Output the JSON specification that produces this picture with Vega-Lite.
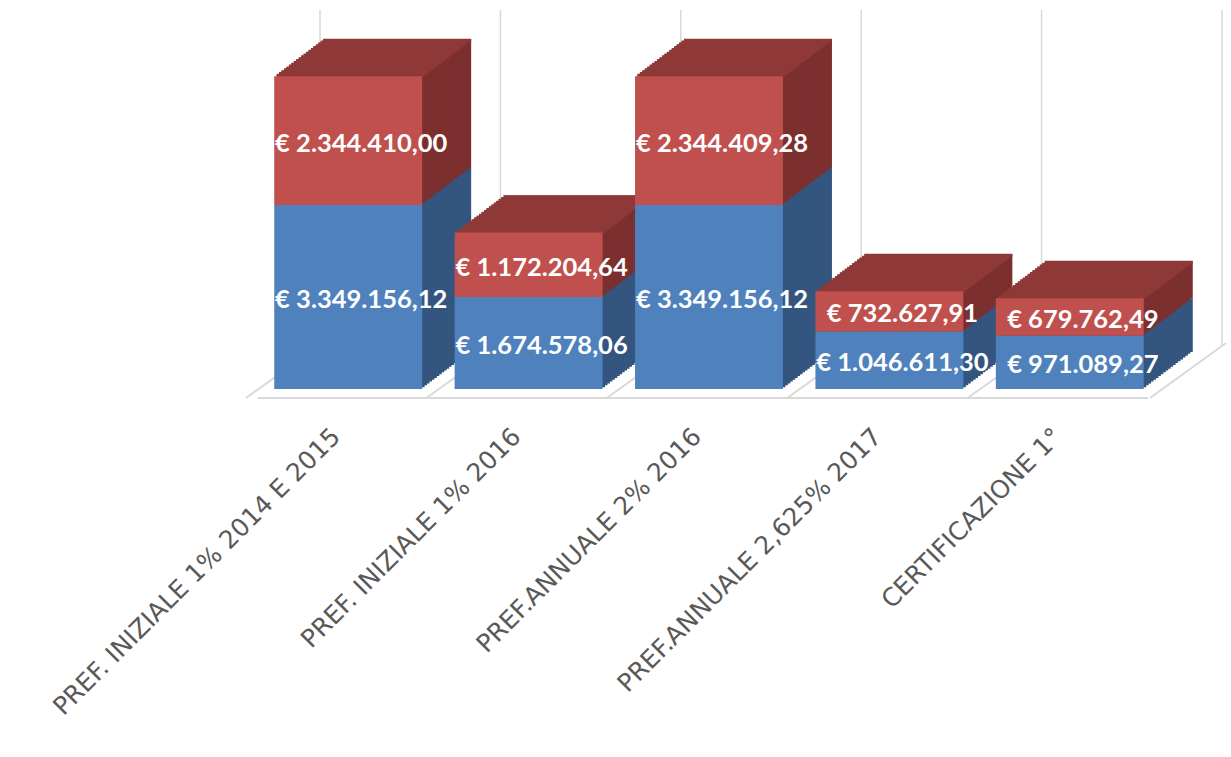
{
  "$schema": "https://vega.github.io/schema/vega-lite/v6.json",
  "width": 902,
  "height": 389,
  "autosize": "none",
  "padding": {"left": 258, "top": 0, "right": 71, "bottom": 368},
  "background": "white",
  "data": {"values": [
    {"cat": "PREF. INIZIALE 1% 2014 E 2015", "serie": "Serie1", "value": 3349156.12},
    {"cat": "PREF. INIZIALE 1% 2014 E 2015", "serie": "Serie2", "value": 2344410.00},
    {"cat": "PREF. INIZIALE 1% 2016", "serie": "Serie1", "value": 1674578.06},
    {"cat": "PREF. INIZIALE 1% 2016", "serie": "Serie2", "value": 1172204.64},
    {"cat": "PREF.ANNUALE 2% 2016", "serie": "Serie1", "value": 3349156.12},
    {"cat": "PREF.ANNUALE 2% 2016", "serie": "Serie2", "value": 2344409.28},
    {"cat": "PREF.ANNUALE 2,625% 2017", "serie": "Serie1", "value": 1046611.30},
    {"cat": "PREF.ANNUALE 2,625% 2017", "serie": "Serie2", "value": 732627.91},
    {"cat": "CERTIFICAZIONE 1°", "serie": "Serie1", "value": 971089.27},
    {"cat": "CERTIFICAZIONE 1°", "serie": "Serie2", "value": 679762.49}
  ]},
  "layer": [
    {"transform": [{"filter": "datum.serie == 'Serie1'"}],
     "mark": {"type": "rule", "color": "#D9D9D9", "strokeWidth": 1.5, "xOffset": 62, "yOffset": 0, "y2Offset": -44},
     "encoding": {
       "x": {"field": "cat", "type": "nominal", "sort": null, "bandPosition": 0},
       "y": {"datum": 6897000, "type": "quantitative", "axis": null, "scale": {"domain": [0, 7079000], "nice": false}},
       "y2": {"datum": 0}}},
    {"transform": [{"filter": "datum.serie == 'Serie1' && datum.cat == 'CERTIFICAZIONE 1°'"}],
     "mark": {"type": "rule", "color": "#D9D9D9", "strokeWidth": 1.5, "xOffset": 62, "y2Offset": -44},
     "encoding": {
       "x": {"field": "cat", "type": "nominal", "sort": null, "bandPosition": 1},
       "y": {"datum": 6897000, "type": "quantitative", "axis": null},
       "y2": {"datum": 0}}},
    {"transform": [{"filter": "datum.serie == 'Serie1'"}],
     "mark": {"type": "rule", "color": "#D9D9D9", "strokeWidth": 2, "xOffset": -12, "x2Offset": 62, "yOffset": 9, "y2Offset": -44},
     "encoding": {
       "x": {"field": "cat", "type": "nominal", "sort": null, "bandPosition": 0},
       "x2": {"field": "cat", "bandPosition": 0},
       "y": {"datum": 0, "type": "quantitative", "axis": null},
       "y2": {"datum": 0}}},
    {"transform": [{"filter": "datum.serie == 'Serie1' && datum.cat == 'CERTIFICAZIONE 1°'"}],
     "mark": {"type": "rule", "color": "#D9D9D9", "strokeWidth": 2, "xOffset": -10, "x2Offset": 66, "yOffset": 9, "y2Offset": -46},
     "encoding": {
       "x": {"field": "cat", "type": "nominal", "sort": null, "bandPosition": 1},
       "x2": {"field": "cat", "bandPosition": 1},
       "y": {"datum": 0, "type": "quantitative", "axis": null},
       "y2": {"datum": 0}}},
    {"mark": {"type": "rule", "color": "#D9D9D9", "strokeWidth": 2, "yOffset": 9, "xOffset": -12, "x2Offset": -10},
     "encoding": {"y": {"datum": 0, "type": "quantitative", "axis": null}}},

    {"mark": {"type": "bar", "width": {"band": 0.82}, "xOffset": 49, "yOffset": -37, "y2Offset": -37}, "encoding": {"x": {"field": "cat", "type": "nominal", "sort": null}, "y": {"field": "value", "type": "quantitative", "stack": "zero", "axis": null}, "detail": {"field": "serie"}, "order": {"field": "serie"}, "color": {"condition": {"test": "datum.serie == 'Serie1'", "value": "#33557F"}, "value": "#7B2F2E"}}},
    {"mark": {"type": "bar", "width": {"band": 0.82}, "xOffset": 46.55, "yOffset": -35.15, "y2Offset": -35.15}, "encoding": {"x": {"field": "cat", "type": "nominal", "sort": null}, "y": {"field": "value", "type": "quantitative", "stack": "zero", "axis": null}, "detail": {"field": "serie"}, "order": {"field": "serie"}, "color": {"condition": {"test": "datum.serie == 'Serie1'", "value": "#33557F"}, "value": "#7B2F2E"}}},
    {"mark": {"type": "bar", "width": {"band": 0.82}, "xOffset": 44.1, "yOffset": -33.3, "y2Offset": -33.3}, "encoding": {"x": {"field": "cat", "type": "nominal", "sort": null}, "y": {"field": "value", "type": "quantitative", "stack": "zero", "axis": null}, "detail": {"field": "serie"}, "order": {"field": "serie"}, "color": {"condition": {"test": "datum.serie == 'Serie1'", "value": "#33557F"}, "value": "#7B2F2E"}}},
    {"mark": {"type": "bar", "width": {"band": 0.82}, "xOffset": 41.65, "yOffset": -31.45, "y2Offset": -31.45}, "encoding": {"x": {"field": "cat", "type": "nominal", "sort": null}, "y": {"field": "value", "type": "quantitative", "stack": "zero", "axis": null}, "detail": {"field": "serie"}, "order": {"field": "serie"}, "color": {"condition": {"test": "datum.serie == 'Serie1'", "value": "#33557F"}, "value": "#7B2F2E"}}},
    {"mark": {"type": "bar", "width": {"band": 0.82}, "xOffset": 39.2, "yOffset": -29.6, "y2Offset": -29.6}, "encoding": {"x": {"field": "cat", "type": "nominal", "sort": null}, "y": {"field": "value", "type": "quantitative", "stack": "zero", "axis": null}, "detail": {"field": "serie"}, "order": {"field": "serie"}, "color": {"condition": {"test": "datum.serie == 'Serie1'", "value": "#33557F"}, "value": "#7B2F2E"}}},
    {"mark": {"type": "bar", "width": {"band": 0.82}, "xOffset": 36.75, "yOffset": -27.75, "y2Offset": -27.75}, "encoding": {"x": {"field": "cat", "type": "nominal", "sort": null}, "y": {"field": "value", "type": "quantitative", "stack": "zero", "axis": null}, "detail": {"field": "serie"}, "order": {"field": "serie"}, "color": {"condition": {"test": "datum.serie == 'Serie1'", "value": "#33557F"}, "value": "#7B2F2E"}}},
    {"mark": {"type": "bar", "width": {"band": 0.82}, "xOffset": 34.3, "yOffset": -25.9, "y2Offset": -25.9}, "encoding": {"x": {"field": "cat", "type": "nominal", "sort": null}, "y": {"field": "value", "type": "quantitative", "stack": "zero", "axis": null}, "detail": {"field": "serie"}, "order": {"field": "serie"}, "color": {"condition": {"test": "datum.serie == 'Serie1'", "value": "#33557F"}, "value": "#7B2F2E"}}},
    {"mark": {"type": "bar", "width": {"band": 0.82}, "xOffset": 31.85, "yOffset": -24.05, "y2Offset": -24.05}, "encoding": {"x": {"field": "cat", "type": "nominal", "sort": null}, "y": {"field": "value", "type": "quantitative", "stack": "zero", "axis": null}, "detail": {"field": "serie"}, "order": {"field": "serie"}, "color": {"condition": {"test": "datum.serie == 'Serie1'", "value": "#33557F"}, "value": "#7B2F2E"}}},
    {"mark": {"type": "bar", "width": {"band": 0.82}, "xOffset": 29.4, "yOffset": -22.2, "y2Offset": -22.2}, "encoding": {"x": {"field": "cat", "type": "nominal", "sort": null}, "y": {"field": "value", "type": "quantitative", "stack": "zero", "axis": null}, "detail": {"field": "serie"}, "order": {"field": "serie"}, "color": {"condition": {"test": "datum.serie == 'Serie1'", "value": "#33557F"}, "value": "#7B2F2E"}}},
    {"mark": {"type": "bar", "width": {"band": 0.82}, "xOffset": 26.95, "yOffset": -20.35, "y2Offset": -20.35}, "encoding": {"x": {"field": "cat", "type": "nominal", "sort": null}, "y": {"field": "value", "type": "quantitative", "stack": "zero", "axis": null}, "detail": {"field": "serie"}, "order": {"field": "serie"}, "color": {"condition": {"test": "datum.serie == 'Serie1'", "value": "#33557F"}, "value": "#7B2F2E"}}},
    {"mark": {"type": "bar", "width": {"band": 0.82}, "xOffset": 24.5, "yOffset": -18.5, "y2Offset": -18.5}, "encoding": {"x": {"field": "cat", "type": "nominal", "sort": null}, "y": {"field": "value", "type": "quantitative", "stack": "zero", "axis": null}, "detail": {"field": "serie"}, "order": {"field": "serie"}, "color": {"condition": {"test": "datum.serie == 'Serie1'", "value": "#33557F"}, "value": "#7B2F2E"}}},
    {"mark": {"type": "bar", "width": {"band": 0.82}, "xOffset": 22.05, "yOffset": -16.65, "y2Offset": -16.65}, "encoding": {"x": {"field": "cat", "type": "nominal", "sort": null}, "y": {"field": "value", "type": "quantitative", "stack": "zero", "axis": null}, "detail": {"field": "serie"}, "order": {"field": "serie"}, "color": {"condition": {"test": "datum.serie == 'Serie1'", "value": "#33557F"}, "value": "#7B2F2E"}}},
    {"mark": {"type": "bar", "width": {"band": 0.82}, "xOffset": 19.6, "yOffset": -14.8, "y2Offset": -14.8}, "encoding": {"x": {"field": "cat", "type": "nominal", "sort": null}, "y": {"field": "value", "type": "quantitative", "stack": "zero", "axis": null}, "detail": {"field": "serie"}, "order": {"field": "serie"}, "color": {"condition": {"test": "datum.serie == 'Serie1'", "value": "#33557F"}, "value": "#7B2F2E"}}},
    {"mark": {"type": "bar", "width": {"band": 0.82}, "xOffset": 17.15, "yOffset": -12.95, "y2Offset": -12.95}, "encoding": {"x": {"field": "cat", "type": "nominal", "sort": null}, "y": {"field": "value", "type": "quantitative", "stack": "zero", "axis": null}, "detail": {"field": "serie"}, "order": {"field": "serie"}, "color": {"condition": {"test": "datum.serie == 'Serie1'", "value": "#33557F"}, "value": "#7B2F2E"}}},
    {"mark": {"type": "bar", "width": {"band": 0.82}, "xOffset": 14.7, "yOffset": -11.1, "y2Offset": -11.1}, "encoding": {"x": {"field": "cat", "type": "nominal", "sort": null}, "y": {"field": "value", "type": "quantitative", "stack": "zero", "axis": null}, "detail": {"field": "serie"}, "order": {"field": "serie"}, "color": {"condition": {"test": "datum.serie == 'Serie1'", "value": "#33557F"}, "value": "#7B2F2E"}}},
    {"mark": {"type": "bar", "width": {"band": 0.82}, "xOffset": 12.25, "yOffset": -9.25, "y2Offset": -9.25}, "encoding": {"x": {"field": "cat", "type": "nominal", "sort": null}, "y": {"field": "value", "type": "quantitative", "stack": "zero", "axis": null}, "detail": {"field": "serie"}, "order": {"field": "serie"}, "color": {"condition": {"test": "datum.serie == 'Serie1'", "value": "#33557F"}, "value": "#7B2F2E"}}},
    {"mark": {"type": "bar", "width": {"band": 0.82}, "xOffset": 9.8, "yOffset": -7.4, "y2Offset": -7.4}, "encoding": {"x": {"field": "cat", "type": "nominal", "sort": null}, "y": {"field": "value", "type": "quantitative", "stack": "zero", "axis": null}, "detail": {"field": "serie"}, "order": {"field": "serie"}, "color": {"condition": {"test": "datum.serie == 'Serie1'", "value": "#33557F"}, "value": "#7B2F2E"}}},
    {"mark": {"type": "bar", "width": {"band": 0.82}, "xOffset": 7.35, "yOffset": -5.55, "y2Offset": -5.55}, "encoding": {"x": {"field": "cat", "type": "nominal", "sort": null}, "y": {"field": "value", "type": "quantitative", "stack": "zero", "axis": null}, "detail": {"field": "serie"}, "order": {"field": "serie"}, "color": {"condition": {"test": "datum.serie == 'Serie1'", "value": "#33557F"}, "value": "#7B2F2E"}}},
    {"mark": {"type": "bar", "width": {"band": 0.82}, "xOffset": 4.9, "yOffset": -3.7, "y2Offset": -3.7}, "encoding": {"x": {"field": "cat", "type": "nominal", "sort": null}, "y": {"field": "value", "type": "quantitative", "stack": "zero", "axis": null}, "detail": {"field": "serie"}, "order": {"field": "serie"}, "color": {"condition": {"test": "datum.serie == 'Serie1'", "value": "#33557F"}, "value": "#7B2F2E"}}},
    {"mark": {"type": "bar", "width": {"band": 0.82}, "xOffset": 2.45, "yOffset": -1.85, "y2Offset": -1.85}, "encoding": {"x": {"field": "cat", "type": "nominal", "sort": null}, "y": {"field": "value", "type": "quantitative", "stack": "zero", "axis": null}, "detail": {"field": "serie"}, "order": {"field": "serie"}, "color": {"condition": {"test": "datum.serie == 'Serie1'", "value": "#33557F"}, "value": "#7B2F2E"}}},

    {"mark": {"type": "tick", "size": 148, "thickness": 2.7, "opacity": 1, "color": "#8E3938", "xOffset": 49, "yOffset": -36.075}, "encoding": {"x": {"field": "cat", "type": "nominal", "sort": null}, "y": {"aggregate": "sum", "field": "value", "type": "quantitative", "axis": null}}},
    {"mark": {"type": "tick", "size": 148, "thickness": 2.7, "opacity": 1, "color": "#8E3938", "xOffset": 46.55, "yOffset": -34.225}, "encoding": {"x": {"field": "cat", "type": "nominal", "sort": null}, "y": {"aggregate": "sum", "field": "value", "type": "quantitative", "axis": null}}},
    {"mark": {"type": "tick", "size": 148, "thickness": 2.7, "opacity": 1, "color": "#8E3938", "xOffset": 44.1, "yOffset": -32.375}, "encoding": {"x": {"field": "cat", "type": "nominal", "sort": null}, "y": {"aggregate": "sum", "field": "value", "type": "quantitative", "axis": null}}},
    {"mark": {"type": "tick", "size": 148, "thickness": 2.7, "opacity": 1, "color": "#8E3938", "xOffset": 41.65, "yOffset": -30.525}, "encoding": {"x": {"field": "cat", "type": "nominal", "sort": null}, "y": {"aggregate": "sum", "field": "value", "type": "quantitative", "axis": null}}},
    {"mark": {"type": "tick", "size": 148, "thickness": 2.7, "opacity": 1, "color": "#8E3938", "xOffset": 39.2, "yOffset": -28.675}, "encoding": {"x": {"field": "cat", "type": "nominal", "sort": null}, "y": {"aggregate": "sum", "field": "value", "type": "quantitative", "axis": null}}},
    {"mark": {"type": "tick", "size": 148, "thickness": 2.7, "opacity": 1, "color": "#8E3938", "xOffset": 36.75, "yOffset": -26.825}, "encoding": {"x": {"field": "cat", "type": "nominal", "sort": null}, "y": {"aggregate": "sum", "field": "value", "type": "quantitative", "axis": null}}},
    {"mark": {"type": "tick", "size": 148, "thickness": 2.7, "opacity": 1, "color": "#8E3938", "xOffset": 34.3, "yOffset": -24.975}, "encoding": {"x": {"field": "cat", "type": "nominal", "sort": null}, "y": {"aggregate": "sum", "field": "value", "type": "quantitative", "axis": null}}},
    {"mark": {"type": "tick", "size": 148, "thickness": 2.7, "opacity": 1, "color": "#8E3938", "xOffset": 31.85, "yOffset": -23.125}, "encoding": {"x": {"field": "cat", "type": "nominal", "sort": null}, "y": {"aggregate": "sum", "field": "value", "type": "quantitative", "axis": null}}},
    {"mark": {"type": "tick", "size": 148, "thickness": 2.7, "opacity": 1, "color": "#8E3938", "xOffset": 29.4, "yOffset": -21.275}, "encoding": {"x": {"field": "cat", "type": "nominal", "sort": null}, "y": {"aggregate": "sum", "field": "value", "type": "quantitative", "axis": null}}},
    {"mark": {"type": "tick", "size": 148, "thickness": 2.7, "opacity": 1, "color": "#8E3938", "xOffset": 26.95, "yOffset": -19.425}, "encoding": {"x": {"field": "cat", "type": "nominal", "sort": null}, "y": {"aggregate": "sum", "field": "value", "type": "quantitative", "axis": null}}},
    {"mark": {"type": "tick", "size": 148, "thickness": 2.7, "opacity": 1, "color": "#8E3938", "xOffset": 24.5, "yOffset": -17.575}, "encoding": {"x": {"field": "cat", "type": "nominal", "sort": null}, "y": {"aggregate": "sum", "field": "value", "type": "quantitative", "axis": null}}},
    {"mark": {"type": "tick", "size": 148, "thickness": 2.7, "opacity": 1, "color": "#8E3938", "xOffset": 22.05, "yOffset": -15.725}, "encoding": {"x": {"field": "cat", "type": "nominal", "sort": null}, "y": {"aggregate": "sum", "field": "value", "type": "quantitative", "axis": null}}},
    {"mark": {"type": "tick", "size": 148, "thickness": 2.7, "opacity": 1, "color": "#8E3938", "xOffset": 19.6, "yOffset": -13.875}, "encoding": {"x": {"field": "cat", "type": "nominal", "sort": null}, "y": {"aggregate": "sum", "field": "value", "type": "quantitative", "axis": null}}},
    {"mark": {"type": "tick", "size": 148, "thickness": 2.7, "opacity": 1, "color": "#8E3938", "xOffset": 17.15, "yOffset": -12.025}, "encoding": {"x": {"field": "cat", "type": "nominal", "sort": null}, "y": {"aggregate": "sum", "field": "value", "type": "quantitative", "axis": null}}},
    {"mark": {"type": "tick", "size": 148, "thickness": 2.7, "opacity": 1, "color": "#8E3938", "xOffset": 14.7, "yOffset": -10.175}, "encoding": {"x": {"field": "cat", "type": "nominal", "sort": null}, "y": {"aggregate": "sum", "field": "value", "type": "quantitative", "axis": null}}},
    {"mark": {"type": "tick", "size": 148, "thickness": 2.7, "opacity": 1, "color": "#8E3938", "xOffset": 12.25, "yOffset": -8.325}, "encoding": {"x": {"field": "cat", "type": "nominal", "sort": null}, "y": {"aggregate": "sum", "field": "value", "type": "quantitative", "axis": null}}},
    {"mark": {"type": "tick", "size": 148, "thickness": 2.7, "opacity": 1, "color": "#8E3938", "xOffset": 9.8, "yOffset": -6.475}, "encoding": {"x": {"field": "cat", "type": "nominal", "sort": null}, "y": {"aggregate": "sum", "field": "value", "type": "quantitative", "axis": null}}},
    {"mark": {"type": "tick", "size": 148, "thickness": 2.7, "opacity": 1, "color": "#8E3938", "xOffset": 7.35, "yOffset": -4.625}, "encoding": {"x": {"field": "cat", "type": "nominal", "sort": null}, "y": {"aggregate": "sum", "field": "value", "type": "quantitative", "axis": null}}},
    {"mark": {"type": "tick", "size": 148, "thickness": 2.7, "opacity": 1, "color": "#8E3938", "xOffset": 4.9, "yOffset": -2.775}, "encoding": {"x": {"field": "cat", "type": "nominal", "sort": null}, "y": {"aggregate": "sum", "field": "value", "type": "quantitative", "axis": null}}},
    {"mark": {"type": "tick", "size": 148, "thickness": 2.7, "opacity": 1, "color": "#8E3938", "xOffset": 2.45, "yOffset": -0.925}, "encoding": {"x": {"field": "cat", "type": "nominal", "sort": null}, "y": {"aggregate": "sum", "field": "value", "type": "quantitative", "axis": null}}},

    {"mark": {"type": "bar", "width": {"band": 0.82}},
     "encoding": {"x": {"field": "cat", "type": "nominal", "sort": null}, "y": {"field": "value", "type": "quantitative", "stack": "zero", "axis": null, "scale": {"domain": [0, 7079000], "nice": false}}, "detail": {"field": "serie"}, "order": {"field": "serie"}, "color": {"condition": {"test": "datum.serie == 'Serie1'", "value": "#4F81BD"}, "value": "#C0504D"}}},
    {"mark": {"type": "text", "color": "white", "font": "Lato", "fontSize": 25.5, "fontWeight": "bold", "dx": 13, "dy": 3},
     "encoding": {"x": {"field": "cat", "type": "nominal", "sort": null}, "y": {"field": "value", "type": "quantitative", "stack": "zero", "bandPosition": 0.5, "axis": null}, "detail": {"field": "serie"}, "order": {"field": "serie"}, "text": {"field": "value", "type": "quantitative", "format": "$,.2f"}}}
  ],
  "config": {
    "view": {"stroke": null},
    "locale": {"number": {"decimal": ",", "thousands": ".", "grouping": [3], "currency": ["€ ", ""]}},
    "scale": {"bandPaddingInner": 0, "bandPaddingOuter": 0},
    "axisX": {"labelAngle": -45, "labelAlign": "right", "labelBaseline": "middle", "labelPadding": 43, "labelOffset": -12, "labelFont": "DejaVu Sans", "labelFontSize": 25, "labelColor": "#595959", "ticks": false, "domain": false, "grid": false, "title": null, "labelLimit": 0, "labelOverlap": false}
  }
}
